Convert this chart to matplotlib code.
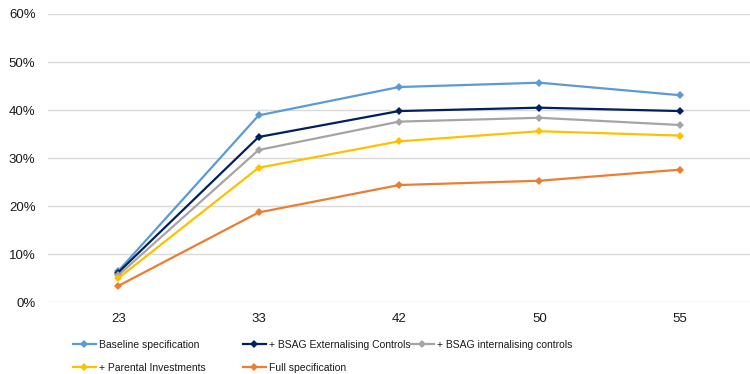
import matplotlib.pyplot as plt
from matplotlib.lines import Line2D
from matplotlib.ticker import PercentFormatter

plt.rcParams['font.family'] = ['Liberation Sans', 'DejaVu Sans']

ages = ['23', '33', '42', '50', '55']

baseline = [0.065, 0.389, 0.448, 0.457, 0.431]
bsag_ext = [0.062, 0.344, 0.398, 0.405, 0.398]
bsag_int = [0.056, 0.317, 0.376, 0.384, 0.369]
parental = [0.050, 0.280, 0.335, 0.356, 0.347]
full_spec = [0.034, 0.187, 0.244, 0.253, 0.276]

labels = ['Baseline specification', '+ BSAG Externalising Controls',
          '+ BSAG internalising controls', '+ Parental Investments',
          'Full specification']
colors = ['#5B9BD5', '#002060', '#A5A5A5', '#FFC000', '#ED7D31']
series = [baseline, bsag_ext, bsag_int, parental, full_spec]

fig = plt.figure(figsize=(7.5, 3.74), dpi=100)
ax = fig.add_axes([0.064, 0.1917, 0.936, 0.7709])

x = range(len(ages))
for vals, col in zip(series, colors):
    ax.plot(x, vals, color=col, linewidth=1.6, marker='D', markersize=4.5,
            markeredgewidth=0, zorder=3)

ax.set_xlim(-0.5, 4.5)
ax.set_ylim(0, 0.6)
ax.set_yticks([0, 0.1, 0.2, 0.3, 0.4, 0.5, 0.6])
ax.yaxis.set_major_formatter(PercentFormatter(1.0, decimals=0))
ax.set_xticks(list(x))
ax.set_xticklabels(ages)

ax.grid(axis='y', color='#D9D9D9', linewidth=1.0)
ax.set_axisbelow(True)
for s in ['top', 'right', 'left', 'bottom']:
    ax.spines[s].set_visible(False)
ax.tick_params(axis='both', length=0, labelsize=9.5, colors='#1A1A1A')
ax.tick_params(axis='y', pad=9)
ax.tick_params(axis='x', pad=8)

# legend entries laid out in fixed-width columns
slots = [(73, 345), (243, 345), (411, 345), (73, 368), (243, 368)]
for (px, py), lab, col in zip(slots, labels, colors):
    h = Line2D([], [], color=col, linewidth=1.6, marker='D', markersize=4,
               markeredgewidth=0)
    fig.legend([h], [lab], loc='center left',
               bbox_to_anchor=(px / 750, 1 - py / 374),
               frameon=False, fontsize=7.5, handlelength=2.2,
               handletextpad=0.25, borderpad=0, borderaxespad=0,
               labelcolor='#1A1A1A')

plt.savefig('out.png', dpi=100)
plt.close()
